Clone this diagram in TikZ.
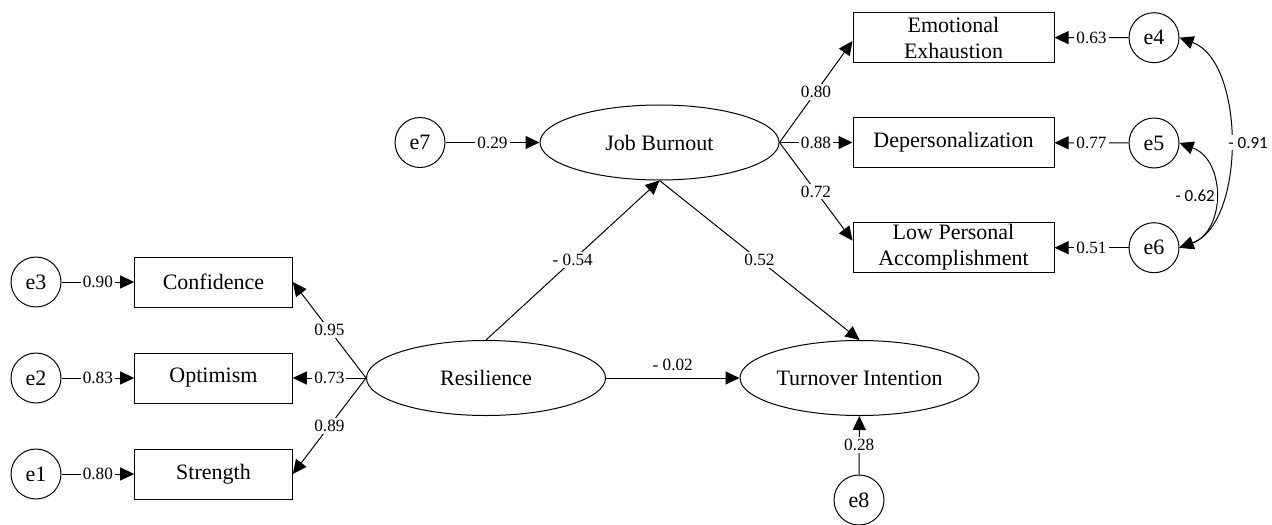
\documentclass[tikz,border=0pt]{standalone}
\usepackage{fontspec}
\setmainfont{Liberation Serif}
\newfontfamily\calibri{Carlito}
\usetikzlibrary{arrows.meta,shapes.geometric}

\begin{document}
\begin{tikzpicture}[x=0.5pt,y=-0.5pt,>={Triangle[length=7pt,width=6.5pt]},line width=0.5pt,
	lat/.style={draw,ellipse,minimum width=119.5pt,minimum height=37.5pt,inner sep=0pt,font=\fontsize{11}{13}\selectfont},
	obs/.style={draw,rectangle,minimum width=#1,minimum height=25pt,inner sep=0pt,align=center,font=\fontsize{11}{13}\selectfont},
	err/.style={draw,circle,minimum size=25pt,inner sep=0pt,font=\fontsize{11}{13}\selectfont},
	coef/.style={fill=white,inner sep=1pt,font=\fontsize{8.6}{9}\selectfont},
	cov/.style={fill=white,inner sep=1pt,font=\calibri\fontsize{8.5}{9}\selectfont}]
	\useasboundingbox (0,0) rectangle (1272,524);
	% 潜变量
	\node[lat] (res) at (486,378) {Resilience};
	\node[lat] (jb) at (659.5,142.5) {Job Burnout};
	\node[lat] (ti) at (859.5,378) {Turnover Intention};
	% 观测变量
	\node[obs=78.8pt] (conf) at (213.5,282) {Confidence};
	\node[obs=78.8pt] (opt) at (213.5,378) {Optimism};
	\node[obs=78.8pt] (stren) at (213.5,474) {Strength};
	\node[obs=100.5pt] (ee) at (953.5,37.5) {Emotional\\Exhaustion};
	\node[obs=100.5pt] (dp) at (953.5,142.5) {Depersonalization};
	\node[obs=100.5pt] (lpa) at (953.5,247.7) {Low Personal\\Accomplishment};
	% 残差
	\node[err] (e3) at (36,282) {e3};
	\node[err] (e2) at (36,378) {e2};
	\node[err] (e1) at (36,474) {e1};
	\node[err] (e7) at (420,142.5) {e7};
	\node[err] (e8) at (859,500) {e8};
	\node[err] (e4) at (1154,37.7) {e4};
	\node[err] (e5) at (1154,143) {e5};
	\node[err] (e6) at (1154,247.7) {e6};
	% 路径
	\draw[->] (e3) -- node[coef] {0.90} (conf);
	\draw[->] (e2) -- node[coef] {0.83} (opt);
	\draw[->] (e1) -- node[coef] {0.80} (stren);
	\draw[->] (res.west) -- node[coef] {0.95} (conf.east);
	\draw[->] (res.west) -- node[coef] {0.73} (opt.east);
	\draw[->] (res.west) -- node[coef] {0.89} (stren.east);
	\draw[->] (res.north) -- node[coef] {- 0.54} (jb.south);
	\draw[->] (jb.south) -- node[coef] {0.52} (ti.north);
	\draw[->] (res) -- node[above,font=\fontsize{8.6}{9}\selectfont] {- 0.02} (ti);
	\draw[->] (e7) -- node[coef] {0.29} (jb);
	\draw[->] (e8) -- node[coef] {0.28} (ti);
	\draw[->] (jb.east) -- node[coef] {0.80} (ee.182);
	\draw[->] (jb.east) -- node[coef] {0.88} (dp.west);
	\draw[->] (jb.east) -- node[coef] {0.72} (lpa.176);
	\draw[->] (e4) -- node[coef] {0.63} (ee);
	\draw[->] (e5) -- node[coef] {0.77} (dp);
	\draw[->] (e6) -- node[coef] {0.51} (lpa);
	% 残差相关
	\draw[<->] (e4.east) to[out=-20,in=20,looseness=0.86] node[cov,anchor=west,xshift=-1.5pt] {- 0.91} (e6.east);
	\draw[<->] (e5.east) to[out=-20,in=20,looseness=1.21] node[cov,anchor=east,xshift=1.5pt] {- 0.62} (e6.east);
\end{tikzpicture}
\end{document}
